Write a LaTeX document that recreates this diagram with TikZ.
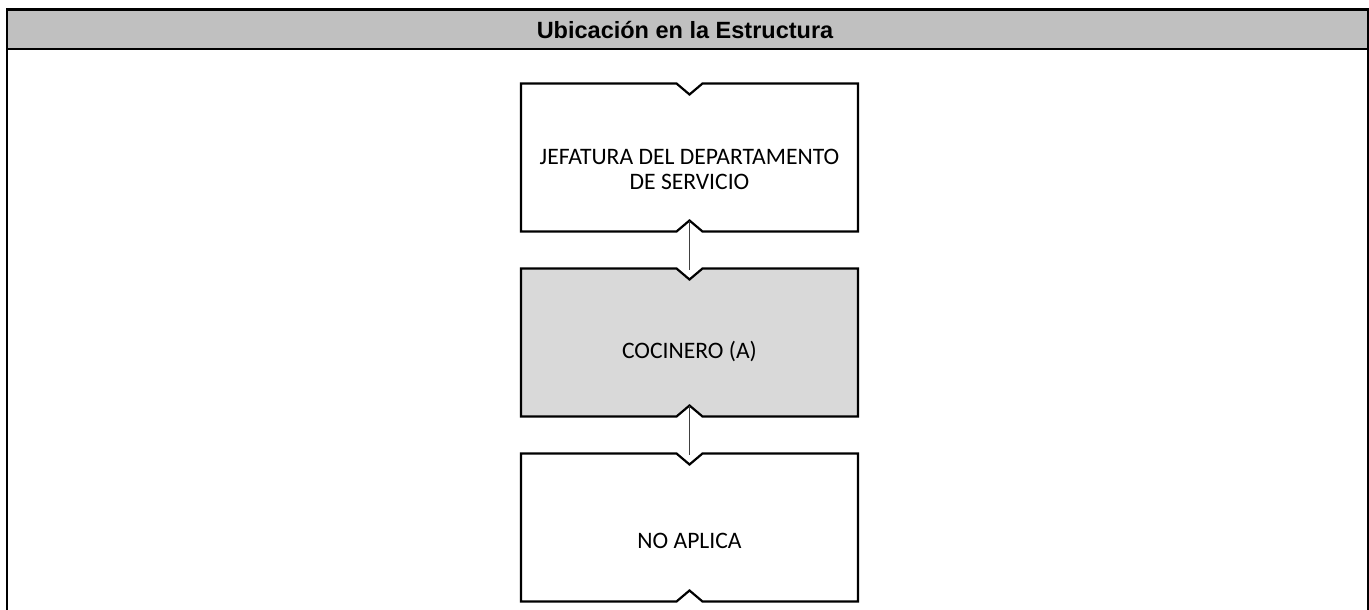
\documentclass[tikz,border=0pt]{standalone}
\usepackage{fontspec}
\setmainfont{Carlito}
\newfontfamily\hdrfont{Liberation Sans}
\definecolor{hdrgray}{HTML}{C0C0C0}
\definecolor{boxgray}{HTML}{D9D9D9}
\definecolor{conngray}{HTML}{404040}
\tikzset{
  frameline/.style={line width=2.3pt, black},
  boxshape/.style={draw=none, minimum width=337pt, minimum height=148pt, inner sep=0pt, outer sep=0pt},
  boxline/.style={line width=2.2pt, black, line join=miter},
  boxtext/.style={font=\fontsize{23.6}{25}\selectfont, align=center, inner sep=0pt},
  conn/.style={line width=1.2pt, conngray}
}
\newcommand{\notchoutline}[2]{%
  \draw[boxline, fill=#2] (#1.north west) -- ([xshift=-13pt]#1.north) -- ([yshift=-11pt]#1.north) -- ([xshift=13pt]#1.north) -- (#1.north east) -- (#1.south east) -- ([xshift=13pt]#1.south) -- ([yshift=11pt]#1.south) -- ([xshift=-13pt]#1.south) -- (#1.south west) -- cycle;}
\begin{document}
\begin{tikzpicture}[x=1pt,y=-1pt]
\useasboundingbox (0,0) rectangle (1369,610);
% header
\fill[hdrgray] (7,9.5) rectangle (1368,48.7);
\node[font=\hdrfont\bfseries\fontsize{23.5}{26}\selectfont] (title) at (685,29.5) {Ubicación en la Estructura};
\draw[frameline] (7,610) -- (7,9.5) -- (1368,9.5) -- (1368,610);
\draw[frameline] (7,48.7) -- (1368,48.7);
% boxes
\node[boxshape] (b1) at (689.5,157.5) {};
\node[boxshape] (b2) at (689.5,342.5) {};
\node[boxshape] (b3) at (689.5,527.5) {};
\notchoutline{b1}{white}
\notchoutline{b2}{boxgray}
\notchoutline{b3}{white}
\node[boxtext] (t1) at ([yshift=-12pt]b1.center) {JEFATURA DEL DEPARTAMENTO\\DE SERVICIO};
\node[boxtext] (t2) at ([yshift=-9pt]b2.center) {COCINERO (A)};
\node[boxtext] (t3) at ([yshift=-13pt]b3.center) {NO APLICA};
% connectors
\draw[conn] ([yshift=11pt]b1.south) -- ([yshift=-1pt]b2.north);
\draw[conn] ([yshift=11pt]b2.south) -- ([yshift=-1pt]b3.north);
\end{tikzpicture}
\end{document}
